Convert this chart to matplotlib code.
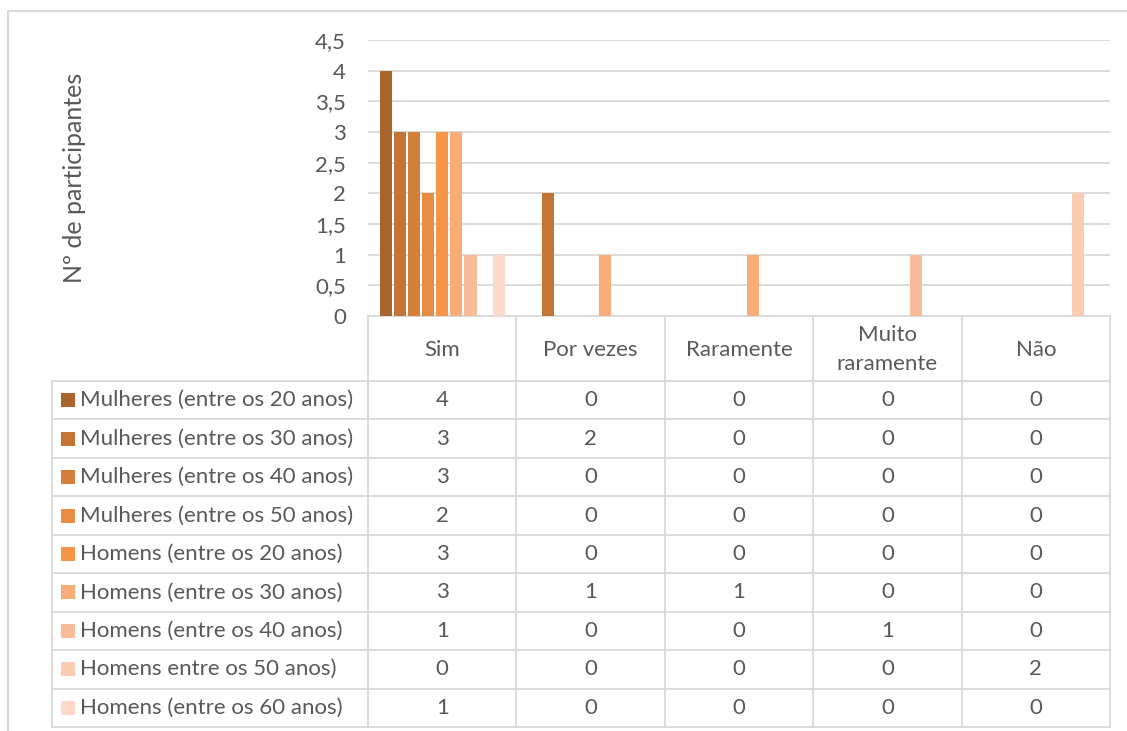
import matplotlib.pyplot as plt
from matplotlib.patches import Rectangle
import numpy as np

plt.rcParams["font.family"] = ["Lato", "DejaVu Sans"]

categories = ["Sim", "Por vezes", "Raramente", "Muito\nraramente", "Não"]
series = [
    "Mulheres (entre os 20 anos)",
    "Mulheres (entre os 30 anos)",
    "Mulheres (entre os 40 anos)",
    "Mulheres (entre os 50 anos)",
    "Homens (entre os 20 anos)",
    "Homens (entre os 30 anos)",
    "Homens (entre os 40 anos)",
    "Homens entre os 50 anos)",
    "Homens (entre os 60 anos)",
]
values = [
    [4, 0, 0, 0, 0],
    [3, 2, 0, 0, 0],
    [3, 0, 0, 0, 0],
    [2, 0, 0, 0, 0],
    [3, 0, 0, 0, 0],
    [3, 1, 1, 0, 0],
    [1, 0, 0, 1, 0],
    [0, 0, 0, 0, 2],
    [1, 0, 0, 0, 0],
]
colors = ["#A9652C", "#C47535", "#D4803A", "#E68C43", "#F79646",
          "#F8AC78", "#F9BC9A", "#F9CCB4", "#FBDACB"]
yticks = [0, 0.5, 1, 1.5, 2, 2.5, 3, 3.5, 4, 4.5]

W, H = 1127, 731
GRID = "#D9D9D9"
TXT = "#595959"
FS = 16

fig = plt.figure(figsize=(W / 100, H / 100), dpi=100)

# pixel helpers for the layout
px_left, px_right, px_top, px_bottom = 368, 1110, 40, 316
ax = fig.add_axes([px_left / W, 1 - px_bottom / H,
                   (px_right - px_left) / W, (px_bottom - px_top) / H])

n = len(series)
slot = 1 / (n + 1.5)
for i, (name, vals, c) in enumerate(zip(series, values, colors)):
    x = np.arange(len(categories)) + 0.75 * slot + (i + 0.5) * slot
    ax.bar(x, vals, width=slot * 0.86, color=c, zorder=3, linewidth=0)

ax.set_xlim(0, len(categories))
ax.set_ylim(0, 4.5)
ax.set_yticks(yticks)
ax.set_yticklabels([f"{t:g}".replace(".", ",") for t in yticks], fontsize=FS, color=TXT)
ax.tick_params(axis="y", length=0, pad=16)
ax.set_xticks([])
ax.grid(axis="y", color=GRID, linewidth=1.3, zorder=0)
for s in ax.spines.values():
    s.set_visible(False)
ax.set_ylabel("Nº de participantes", fontsize=18, color=TXT, labelpad=0)
ax.yaxis.set_label_coords((75 - px_left) / (px_right - px_left), 0.5)
ax.yaxis.label.set_va("center")

# data table below the plot, drawn on a full-figure overlay
ov = fig.add_axes([0, 0, 1, 1], zorder=-1)
ov.set_xlim(0, W)
ov.set_ylim(H, 0)
ov.axis("off")

# outer chart border
ov.plot([8, 8, W], [H, 11, 11], color=GRID, linewidth=1.5)

col_w = (px_right - px_left) / len(categories)
col_x = [px_left + k * col_w for k in range(len(categories) + 1)]
head_bot = 381
tab_left = 52
row_h = (727 - head_bot) / n
row_y = [head_bot + k * row_h for k in range(n + 1)]
lw = 1.3

# header block
for xx in col_x:
    ov.plot([xx, xx], [px_bottom, head_bot], color=GRID, linewidth=lw)
ov.plot([px_left, px_right], [px_bottom, px_bottom], color=GRID, linewidth=lw)
for k, cat in enumerate(categories):
    ov.text((col_x[k] + col_x[k + 1]) / 2, (px_bottom + head_bot) / 2 + 1, cat,
            ha="center", va="center", fontsize=FS, color=TXT, linespacing=1.6)

# body rows
for yy in row_y:
    ov.plot([tab_left, px_right], [yy, yy], color=GRID, linewidth=lw)
for xx in [tab_left] + col_x:
    ov.plot([xx, xx], [head_bot, row_y[-1]], color=GRID, linewidth=lw)

for r, (name, vals, c) in enumerate(zip(series, values, colors)):
    yc = (row_y[r] + row_y[r + 1]) / 2
    ov.add_patch(Rectangle((61, yc - 7), 14, 14, color=c, linewidth=0))
    ov.text(80, yc, name, ha="left", va="center", fontsize=FS, color=TXT)
    for k, v in enumerate(vals):
        ov.text((col_x[k] + col_x[k + 1]) / 2, yc, f"{v}",
                ha="center", va="center", fontsize=FS, color=TXT)

fig.savefig("out.png", dpi=100)
